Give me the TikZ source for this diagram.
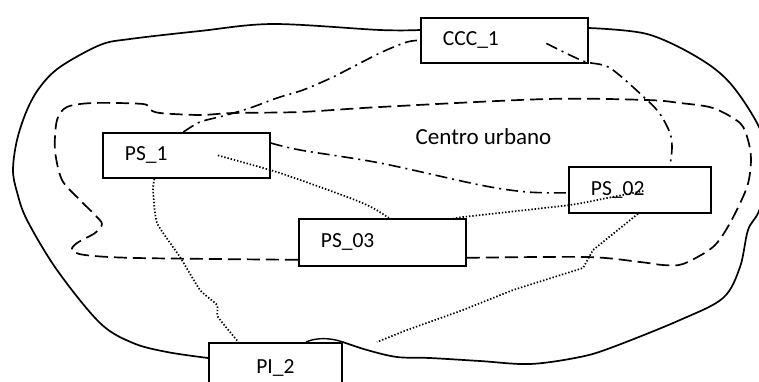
\documentclass[tikz,border=0pt]{standalone}
\usepackage{fontspec}
\setmainfont{Carlito}
\usetikzlibrary{calc}
\begin{document}
\begin{tikzpicture}[x=1pt,y=-1pt,
  boxstyle/.style={draw=black,line width=1.8pt,rectangle,anchor=north west,inner ysep=0pt,
     font=\fontsize{21.5}{25}\selectfont,align=left},
  outerline/.style={line width=1.7pt},
  urbanline/.style={line width=1.7pt,dash pattern=on 13pt off 6pt},
  dashdotline/.style={line width=1.6pt,dash pattern=on 12pt off 5pt on 2pt off 5pt},
  dotline/.style={line width=1.7pt,dash pattern=on 1.4pt off 1.9pt},
  txt/.style={font=\fontsize{23}{27}\selectfont}
]
\useasboundingbox (0,0) rectangle (759,381);
\clip (0,0) rectangle (759,381);

% boxes
\node[boxstyle,minimum width=167pt,minimum height=45pt,text width=123pt,inner xsep=22pt] (ccc) at (420,17) {CCC\_1};
\node[boxstyle,minimum width=167pt,minimum height=45pt,text width=123pt,inner xsep=22pt] (ps1) at (102,132) {PS\_1};
\node[boxstyle,minimum width=142pt,minimum height=46pt,text width=98pt,inner xsep=22pt] (ps2) at (568,166) {PS\_02};
\node[boxstyle,minimum width=167pt,minimum height=47pt,text width=123pt,inner xsep=22pt] (ps3) at (298,218) {PS\_03};
\node[boxstyle,minimum width=133pt,minimum height=50pt,text width=133pt,inner xsep=0pt,align=center] (pi) at (208,342) {PI\_2};

\node[txt] (cu) at (483.5,137) {Centro urbano};

% outer solid boundary
\draw[outerline] plot[smooth,tension=0.55] coordinates {
  ($(ccc.north west)+(0,13)$) (380,30) (273,24) (200,31) (130,39) (100,45) (60,67) (40,87)
  (27,110) (17,140) (13,170) (17,192) (27,220) (57,270) (100,323) (133,343) (167,352) ($(pi.north west)+(0,16)$)};
\draw[outerline] plot[smooth,tension=0.55] coordinates {
  (pi.north east) (367,350) (397,357) (430,358) (480,361) (530,364) (580,357) (613,347)
  (680,320) (723,298) (740,267) (748,230) (759,211) (772,170) (759,127) (730,83) (697,57) (647,34) ($(ccc.north east)+(0,11)$)};
\coordinate (bumpstart) at (306,342);
\draw[line width=1.4pt] (bumpstart) .. controls (316,337.5) and (330,337.5) .. (pi.north east);

% urban boundary (dashed)
\draw[urbanline] plot[smooth,tension=0.5] coordinates {
  ($(ps3.south east)+(0,-9)$) (587,257) (640,262) (663,265) (683,264) (713,247) (730,223)
  (747,187) (751,160) (748,140) (740,123) (713,108) (680,103) (647,100) (547,99) (380,107)
  (300,112) (233,113) (200,115) (160,113) (149,109) (143,104) (93,103) (67,107) (57,120)
  (55,150) (62,180) (80,200) (95,215) (102,224) (95,233) (77,243) (72,250) (85,255) (137,258)
  ($(ps3.south west)+(0,-7)$)};

% dash-dot links
\draw[dashdotline] plot[smooth,tension=0.5] coordinates {
  ($(ps1.north)+(-3,0)$) (200,122) (223,116) (250,108) (277,98) (303,90) (333,77) (380,53) (407,42) (ccc.west)};
\draw[dashdotline] plot[smooth,tension=0.5] coordinates {
  ($(ccc.center)+(42,3)$) (583,61) (610,68) (647,100) (660,114) (670,133) (672,148) ($(ps2.north)+(30,0)$)};
\draw[dashdotline] plot[smooth,tension=0.5] coordinates {
  ($(ps1.north east)+(0,11)$) (300,150) (380,163) (480,185) (527,192) ($(ps2.west)+(0,3)$)};

% dotted links
\draw[dotline] plot[smooth,tension=0.4] coordinates {
  ($(ps1.center)+(31.5,0)$) (280,173) (350,198) (373,208) ($(ps3.north)+(6.5,0)$)};
\draw[dotline] plot[smooth,tension=0.3] coordinates {
  ($(ps1.south)+(-32,0)$) (153,190) (157,223) (180,257) (200,290) (217,305) (218,317) ($(pi.north)+(-37,0)$)};
\draw[dotline] plot[smooth,tension=0.3] coordinates {
  ($(ps3.north east)+(-14,1)$) (463,217) (570,205) (607,198) ($(ps2.center)+(4,1)$)};
\coordinate (dtend) at (377,342);
\draw[dotline] ($(ps2.south)+(-2,0)$) -- (593,250) -- (583,268) -- (513,290) -- (463,310) -- (407,330) -- (dtend);
\end{tikzpicture}
\end{document}
